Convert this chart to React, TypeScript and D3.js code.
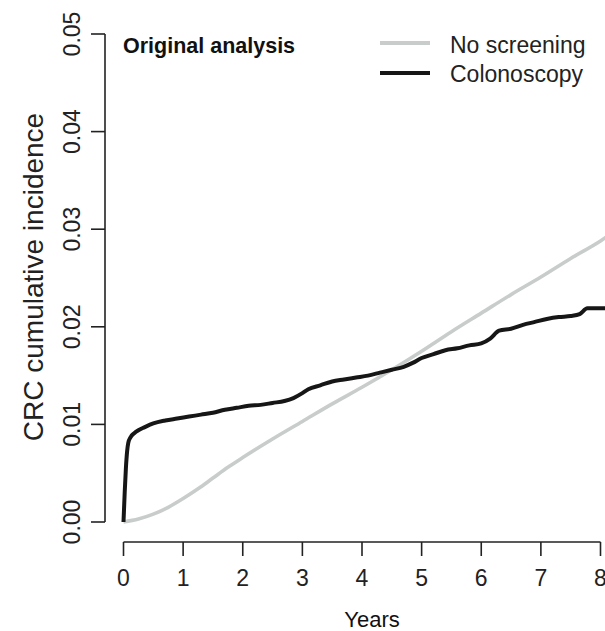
import React from "react";
import * as d3 from "d3";

const xTicks = [0, 1, 2, 3, 4, 5, 6, 7, 8];
const yTicks = [0, 0.01, 0.02, 0.03, 0.04, 0.05];
const yTickLabels = ["0.00", "0.01", "0.02", "0.03", "0.04", "0.05"];
const seriesNames = ["No screening", "Colonoscopy"];
const seriesColors = ["#c8cdcb", "#161616"];

const noScreenX = [0, 0.25, 0.5, 0.75, 1, 1.25, 1.5, 1.75, 2, 2.5, 3, 3.5, 4, 4.5, 5, 5.5, 6, 6.5, 7, 7.5, 8, 8.1];
const noScreenY = [0, 0.0003, 0.0008, 0.0015, 0.0024, 0.0034, 0.0045, 0.0056, 0.0066, 0.0085, 0.0103, 0.0121, 0.0138, 0.0156, 0.0175, 0.0195, 0.0214, 0.0233, 0.0251, 0.027, 0.0288, 0.0292];

const colonX = [0, 0.02, 0.04, 0.06, 0.08, 0.12, 0.18, 0.25, 0.35, 0.5, 0.7, 0.9, 1.1, 1.3, 1.5, 1.7, 1.9, 2.1, 2.3, 2.5, 2.7, 2.85, 3.0, 3.1, 3.3, 3.5, 3.7, 3.9, 4.1, 4.3, 4.5, 4.7, 4.85, 5.0, 5.2, 5.4, 5.6, 5.8, 6.0, 6.15, 6.3, 6.5, 6.7, 6.9, 7.1, 7.3, 7.5, 7.65, 7.78, 8.1];
const colonY = [0, 0.003, 0.0055, 0.0072, 0.0081, 0.0087, 0.0091, 0.0094, 0.0097, 0.0101, 0.0104, 0.0106, 0.0108, 0.011, 0.0112, 0.0115, 0.0117, 0.0119, 0.012, 0.0122, 0.0124, 0.0127, 0.0132, 0.0136, 0.014, 0.0144, 0.0146, 0.0148, 0.015, 0.0153, 0.0156, 0.0159, 0.0163, 0.0168, 0.0172, 0.0176, 0.0178, 0.0181, 0.0183, 0.0188, 0.0196, 0.0198, 0.0202, 0.0205, 0.0208, 0.021, 0.0211, 0.0213, 0.0219, 0.0219];

const W = 605;
const H = 631;
const FONT = "'Liberation Sans', Arial, sans-serif";
const INK = "#222";

export default function App() {
  const x = d3.scaleLinear().domain([0, 8]).range([123.5, 600.5]);
  const y = d3.scaleLinear().domain([0, 0.05]).range([522, 34]);

  const line = d3
    .line<[number, number]>()
    .x((d) => x(d[0]))
    .y((d) => y(d[1]))
    .curve(d3.curveMonotoneX);

  const grey: [number, number][] = noScreenX.map((v, i) => [v, noScreenY[i]]);
  const black: [number, number][] = colonX.map((v, i) => [v, colonY[i]]);

  const axisX = 105;
  const axisY = 542;

  return (
    <svg
      width={W}
      height={H}
      style={{ position: "absolute", left: 0, top: 0, background: "#fff" }}
      fontFamily={FONT}
    >
      <rect x={0} y={0} width={W} height={H} fill="#fff" />
      {/* Y axis */}
      <line x1={axisX} x2={axisX} y1={y(0)} y2={y(0.05)} stroke={INK} strokeWidth={1.6} />
      {yTicks.map((t, i) => (
        <g key={"yt" + i}>
          <line x1={axisX - 14} x2={axisX} y1={y(t)} y2={y(t)} stroke={INK} strokeWidth={1.6} />
          <text
            transform={`translate(${80},${y(t)}) rotate(-90)`}
            textAnchor="middle"
            fontSize={23}
            fill={INK}
          >
            {yTickLabels[i]}
          </text>
        </g>
      ))}
      <text
        transform={`translate(${43},${277}) rotate(-90)`}
        textAnchor="middle"
        fontSize={28}
        fill={INK}
      >
        CRC cumulative incidence
      </text>

      {/* X axis */}
      <line x1={x(0)} x2={x(8)} y1={axisY} y2={axisY} stroke={INK} strokeWidth={1.6} />
      {xTicks.map((t) => (
        <g key={"xt" + t}>
          <line x1={x(t)} x2={x(t)} y1={axisY} y2={axisY + 14} stroke={INK} strokeWidth={1.6} />
          <text x={x(t)} y={586} textAnchor="middle" fontSize={23} fill={INK}>
            {t}
          </text>
        </g>
      ))}
      <text x={372} y={627} textAnchor="middle" fontSize={22} fill="#111">
        Years
      </text>

      {/* Lines */}
      <path d={line(grey) || ""} fill="none" stroke={seriesColors[0]} strokeWidth={3.6} strokeLinejoin="round" />
      <path d={line(black) || ""} fill="none" stroke={seriesColors[1]} strokeWidth={4} strokeLinejoin="round" />

      {/* Title */}
      <text x={123} y={53} fontSize={21.5} fontWeight="bold" fill="#111">
        Original analysis
      </text>

      {/* Legend */}
      {seriesNames.map((n, i) => (
        <g key={"lg" + i}>
          <line x1={380} x2={430} y1={43 + i * 30} y2={43 + i * 30} stroke={seriesColors[i]} strokeWidth={3.8} />
          <text x={450} y={53 + i * 29} fontSize={23} fill={INK}>
            {n}
          </text>
        </g>
      ))}
    </svg>
  );
}
